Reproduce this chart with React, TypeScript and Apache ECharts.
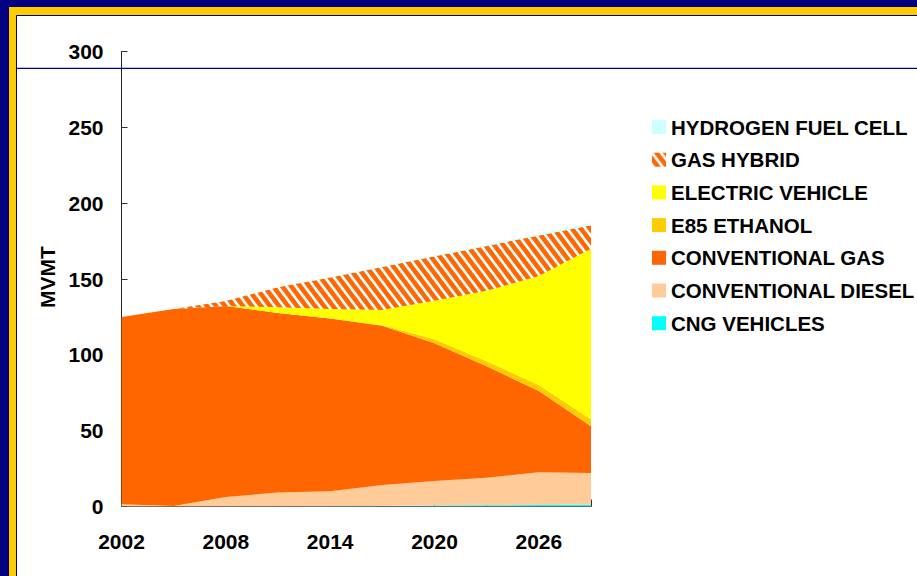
import React, { useEffect, useRef } from 'react';
import * as echarts from 'echarts';

// Vehicle miles travelled by fuel type, every third year
const years = ['2002', '2005', '2008', '2011', '2014', '2017', '2020', '2023', '2026', '2029'];
const cngVehicles = [0, 0, 0, 0, 0.2, 0.4, 0.6, 0.8, 1.0, 1.1];
const conventionalDiesel = [1.5, 0.3, 6.2, 9.3, 9.8, 13.8, 16.2, 18.2, 21.6, 21.0];
const conventionalGas = [123.5, 130.0, 126.1, 118.4, 114.0, 105.1, 90.9, 73.5, 53.6, 30.9];
const e85Ethanol = [0, 0, 0, 0, 0, 0.3, 2.6, 3.3, 4.0, 4.5];
const electricVehicle = [0, 0, 0, 3.7, 6.3, 10.0, 25.5, 46.5, 71.8, 112.5];
const gasHybrid = [0, 0, 3.2, 13.2, 20.8, 28.4, 29.2, 29.6, 26.8, 15.6];
const hydrogenFuelCell = [0, 0, 0, 0, 0.2, 0.4, 0.6, 0.8, 1.0, 1.2];

const yTicks = { min: 0, max: 300, interval: 50 };
const FONT = "'Liberation Sans', Arial, Helvetica, sans-serif";

// Orange tile crossed by white diagonal stripes
function makeHatch(): HTMLCanvasElement {
  const w = 9;
  const h = 12;
  const c = document.createElement('canvas');
  c.width = w;
  c.height = h;
  const ctx = c.getContext('2d')!;
  ctx.fillStyle = '#FF6600';
  ctx.fillRect(0, 0, w, h);
  ctx.strokeStyle = '#FFFFFF';
  ctx.lineWidth = 2.6;
  for (let k = -1; k <= 1; k++) {
    ctx.beginPath();
    ctx.moveTo(k * w - w, -h);
    ctx.lineTo(k * w + 2 * w, 2 * h);
    ctx.stroke();
  }
  return c;
}

export default function App() {
  const ref = useRef<HTMLDivElement>(null);

  useEffect(() => {
    if (!ref.current) return;
    const chart = echarts.init(ref.current, undefined, { renderer: 'svg' });
    const hatch = { image: makeHatch(), repeat: 'repeat' } as any;

    const layers = [
      { name: 'CNG VEHICLES', data: cngVehicles, color: '#00FFFF' },
      { name: 'CONVENTIONAL DIESEL', data: conventionalDiesel, color: '#FFCC99' },
      { name: 'CONVENTIONAL GAS', data: conventionalGas, color: '#FF6600' },
      { name: 'E85 ETHANOL', data: e85Ethanol, color: '#FFCC00' },
      { name: 'ELECTRIC VEHICLE', data: electricVehicle, color: '#FFFF00' },
      { name: 'GAS HYBRID', data: gasHybrid, color: hatch },
      { name: 'HYDROGEN FUEL CELL', data: hydrogenFuelCell, color: '#CCFFFF' },
    ];

    const series = layers.map((l) => ({
      name: l.name,
      type: 'line',
      stack: 'total',
      data: l.data,
      showSymbol: false,
      symbol: 'none',
      color: l.color,
      itemStyle: { color: l.color },
      lineStyle: { width: 0, color: l.color },
      areaStyle: { color: l.color, opacity: 1 },
      emphasis: { disabled: true },
    }));

    chart.setOption({
      animation: false,
      backgroundColor: '#000080',
      grid: { left: 121.5, right: 326, top: 51.7, bottom: 69.5, containLabel: false },
      xAxis: {
        type: 'category',
        data: years,
        boundaryGap: false,
        axisLine: { lineStyle: { color: '#555555', width: 1 } },
        axisTick: { inside: true, length: 7, interval: 0, lineStyle: { color: '#333333' } },
        axisLabel: {
          interval: 1,
          margin: 24,
          color: '#000',
          fontFamily: FONT,
          fontWeight: 'bold',
          fontSize: 21,
        },
        splitLine: { show: false },
      },
      yAxis: {
        type: 'value',
        min: yTicks.min,
        max: yTicks.max,
        interval: yTicks.interval,
        axisLine: { show: true, lineStyle: { color: '#222222', width: 1 } },
        axisTick: { show: true, inside: true, length: 6, lineStyle: { color: '#333333' } },
        axisLabel: {
          margin: 18,
          color: '#000',
          fontFamily: FONT,
          fontWeight: 'bold',
          fontSize: 21,
        },
        splitLine: { show: false },
      },
      legend: {
        orient: 'vertical',
        left: 652,
        top: 116.5,
        padding: 0,
        icon: 'rect',
        itemWidth: 14,
        itemHeight: 14,
        itemGap: 11.7,
        selectedMode: false,
        textStyle: { color: '#000', fontFamily: FONT, fontWeight: 'bold', fontSize: 20.5 },
        data: [...layers].reverse().map((l) => ({ name: l.name, itemStyle: { color: l.color } })),
      },
      graphic: [
        {
          type: 'rect',
          z: -10,
          shape: { x: 9, y: 7, width: 920, height: 580 },
          style: { fill: '#FFCC00' },
          silent: true,
        },
        {
          type: 'rect',
          z: -9,
          shape: { x: 16.5, y: 15.5, width: 910, height: 570 },
          style: { fill: '#FFFFFF', stroke: '#000080', lineWidth: 1 },
          silent: true,
        },
        {
          type: 'line',
          z: 100,
          shape: { x1: 17, y1: 68.3, x2: 917, y2: 68.3 },
          style: { stroke: '#000080', lineWidth: 1.3 },
          silent: true,
        },
        {
          type: 'text',
          x: 47,
          y: 277,
          rotation: Math.PI / 2,
          style: {
            text: 'MVMT',
            fill: '#000',
            font: `bold 21px ${FONT}`,
            align: 'center',
            verticalAlign: 'middle',
          },
          silent: true,
        },
      ],
      series,
    });

    return () => chart.dispose();
  }, []);

  return (
    <div
      ref={ref}
      style={{ position: 'fixed', left: 0, top: 0, width: 917, height: 576 }}
    />
  );
}
